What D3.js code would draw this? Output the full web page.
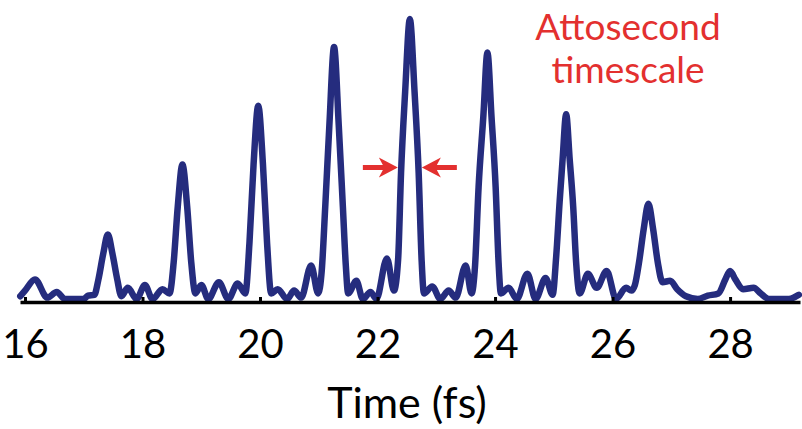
<!DOCTYPE html>
<html>
<head>
<meta charset="utf-8">
<script src="https://cdn.jsdelivr.net/npm/d3@7"></script>
<style>
  body { margin: 0; background: #fff; }
  svg { display: block; }
</style>
</head>
<body>
<svg id="chart"></svg>
<script>
// Values: time in fs, intensity relative to main peak
const timeFs = [
  15.92, 16.0, 16.17, 16.38, 16.54, 16.68, 17.0, 17.07,
  17.18, 17.25, 17.33, 17.41, 17.49, 17.57, 17.64,
  17.75, 17.9, 18.04, 18.17, 18.34,
  18.46, 18.53, 18.6, 18.68, 18.76, 18.83, 18.9,
  19.0, 19.12, 19.3, 19.46, 19.62,
  19.75, 19.82, 19.89, 19.97, 20.05, 20.12, 20.19,
  20.3, 20.46, 20.58, 20.7, 20.87, 20.99,
  21.05, 21.11, 21.18, 21.26, 21.34, 21.41, 21.46, 21.5,
  21.64, 21.75, 21.88, 21.98, 22.16, 22.28,
  22.35, 22.4, 22.47, 22.55, 22.63, 22.7, 22.75, 22.79,
  22.93, 23.07, 23.21, 23.33, 23.5, 23.6,
  23.66, 23.72, 23.8, 23.87, 23.94, 24.01, 24.06, 24.1,
  24.23, 24.37, 24.55, 24.69, 24.86, 24.98,
  25.04, 25.1, 25.15, 25.21, 25.27, 25.33, 25.38, 25.44,
  25.58, 25.73, 25.9, 26.06, 26.23, 26.32,
  26.38, 26.45, 26.53, 26.61, 26.69, 26.77, 26.85,
  26.98, 27.1, 27.25, 27.45, 27.62, 27.8, 27.92, 28.0, 28.09, 28.22, 28.4, 28.52, 28.66,
  29.0, 29.17
];
const intensity = [
  0.01, 0.03, 0.07, 0.005, 0.025, 0.0, 0.0, 0.012,
  0.015, 0.07, 0.16, 0.23, 0.16, 0.07, 0.01,
  0.04, 0.0, 0.05, 0.0, 0.035,
  0.02, 0.13, 0.33, 0.48, 0.33, 0.13, 0.02,
  0.05, 0.0, 0.06, 0.0, 0.055,
  0.02, 0.2, 0.48, 0.69, 0.48, 0.2, 0.02,
  0.035, 0.0, 0.03, 0.005, 0.12, 0.02,
  0.1, 0.33, 0.62, 0.9, 0.62, 0.33, 0.12, 0.02,
  0.065, 0.0, 0.025, 0.0, 0.145, 0.03,
  0.14, 0.45, 0.74, 1.0, 0.74, 0.45, 0.14, 0.02,
  0.045, 0.0, 0.03, 0.005, 0.12, 0.02,
  0.12, 0.4, 0.65, 0.88, 0.65, 0.4, 0.13, 0.02,
  0.04, 0.0, 0.09, 0.0, 0.075, 0.015,
  0.15, 0.35, 0.5, 0.66, 0.5, 0.33, 0.13, 0.02,
  0.09, 0.04, 0.1, 0.0, 0.04, 0.03,
  0.05, 0.13, 0.25, 0.34, 0.25, 0.13, 0.06,
  0.065, 0.035, 0.01, 0.0, 0.012, 0.02, 0.07, 0.1, 0.07, 0.035, 0.04, 0.02, 0.0,
  0.0, 0.015
];
const tickValues = [16, 18, 20, 22, 24, 26, 28];
const xTitle = "Time (fs)";
const noteLines = ["Attosecond", "timescale"];
const fwhmAt = [22.55, 0.47];   // where the two arrows point

const width = 802;
const height = 429;
const axisY = 302;

const svg = d3.select("#chart")
  .attr("width", width)
  .attr("height", height);

svg.append("rect")
  .attr("width", width)
  .attr("height", height)
  .attr("fill", "#fff");

// Scales
const xScale = d3.scaleLinear()
  .domain([15.915, 29.19])
  .range([20, 800]);

const yScale = d3.scaleLinear()
  .domain([0, 1])
  .range([299, 19]);

const points = timeFs.map((t, i) => [t, intensity[i]]);

// Pulse train
const line = d3.line()
  .x(d => xScale(d[0]))
  .y(d => yScale(d[1]))
  .curve(d3.curveMonotoneX);

svg.append("path")
  .datum(points)
  .attr("fill", "none")
  .attr("stroke", "#252c7e")
  .attr("stroke-width", 6.5)
  .attr("stroke-linejoin", "round")
  .attr("stroke-linecap", "round")
  .attr("d", line);

// Axis
const xAxis = d3.axisBottom(xScale)
  .tickValues(tickValues)
  .tickSizeInner(-5)
  .tickSizeOuter(0)
  .tickFormat(d3.format("d"));

const gx = svg.append("g")
  .attr("transform", `translate(0, ${axisY})`)
  .call(xAxis);

gx.select(".domain")
  .attr("stroke", "#000")
  .attr("stroke-width", 3.5);

gx.selectAll(".tick line")
  .attr("stroke", "#000")
  .attr("stroke-width", 3);

gx.selectAll(".tick text")
  .attr("y", 56)
  .attr("dy", null)
  .attr("fill", "#000")
  .style("font-family", "Lato, 'Open Sans', sans-serif")
  .style("font-size", "40px");

svg.append("text")
  .attr("x", 407)
  .attr("y", 418)
  .attr("text-anchor", "middle")
  .attr("fill", "#000")
  .style("font-family", "Lato, 'Open Sans', sans-serif")
  .style("font-size", "43px")
  .text(xTitle);

// Annotation
const red = "#e3302f";

svg.selectAll(".note")
  .data(noteLines)
  .enter()
  .append("text")
  .attr("class", "note")
  .attr("x", 628)
  .attr("y", (d, i) => 40 + i * 43)
  .attr("text-anchor", "middle")
  .attr("fill", red)
  .style("font-family", "Lato, 'Open Sans', sans-serif")
  .style("font-size", "37px")
  .text(d => d);

// FWHM arrows, tips touching the outside of the main peak
const ay = yScale(fwhmAt[1]);
const halfGap = 12;
const cx = xScale(fwhmAt[0]);

function arrow(tipX, dir) {
  // dir = +1 points right, -1 points left
  const len = 35, headL = 15, headH = 10, shaft = 2.5;
  const bx = tipX - dir * headL;
  const p = [
    [tipX, ay],
    [bx - dir * 4, ay - headH],
    [bx, ay - shaft],
    [tipX - dir * len, ay - shaft],
    [tipX - dir * len, ay + shaft],
    [bx, ay + shaft],
    [bx - dir * 4, ay + headH]
  ];
  svg.append("path")
    .attr("d", "M" + p.map(q => q.join(",")).join("L") + "Z")
    .attr("fill", red);
}

arrow(cx - halfGap, 1);
arrow(cx + halfGap, -1);
</script>
</body>
</html>
